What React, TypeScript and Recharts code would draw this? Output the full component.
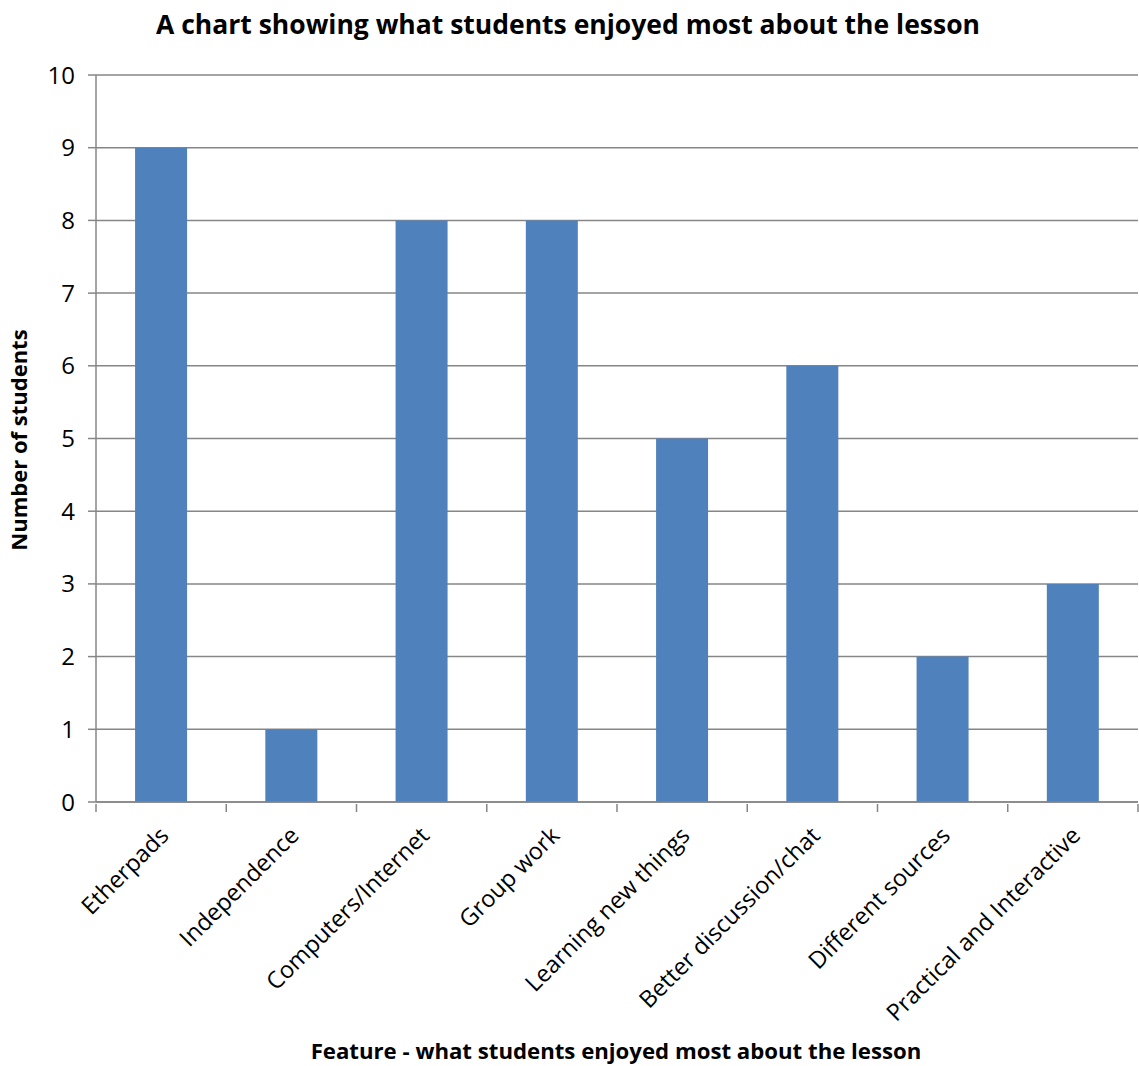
import { Bar, BarChart, CartesianGrid, XAxis, YAxis } from "recharts";

const features = [
  "Etherpads",
  "Independence",
  "Computers/Internet",
  "Group work",
  "Learning new things",
  "Better discussion/chat",
  "Different sources",
  "Practical and Interactive",
];
const students = [9, 1, 8, 8, 5, 6, 2, 3];
const yTicks = [0, 1, 2, 3, 4, 5, 6, 7, 8, 9, 10];

const FONT = "'Open Sans', Calibri, sans-serif";
const AXIS = "#868686";
const BAR = "#4F81BD";

const W = 1139;
const H = 1066;
const M = { top: 75, right: 1, left: 0, bottom: 64 };
const Y_WIDTH = 96;
const band = (W - M.left - M.right - Y_WIDTH) / features.length;

const data = features.map((f, i) => ({ feature: f, count: students[i] }));

// category label rotated 45°, with tick marks on the band boundaries
function FeatureTick(props: any) {
  const { x, y, payload, index } = props;
  const half = payload?.offset || band / 2;
  const left = x - half;
  const ax = x + 9;
  const ay = y + 25;
  return (
    <g>
      <line x1={left} y1={y - 8} x2={left} y2={y} stroke={AXIS} strokeWidth={1.5} />
      {index === features.length - 1 && (
        <line x1={x + half} y1={y - 8} x2={x + half} y2={y} stroke={AXIS} strokeWidth={1.5} />
      )}
      <text
        x={ax}
        y={ay}
        transform={`rotate(-45 ${ax} ${ay})`}
        textAnchor="end"
        fontFamily={FONT}
        fontSize={23.5}
        fill="#000"
      >
        {payload.value}
      </text>
    </g>
  );
}

export default function App() {
  return (
    <div style={{ position: "absolute", left: 0, top: 0, width: W, height: H, background: "#fff" }}>
      <BarChart width={W} height={H} data={data} margin={M} barCategoryGap="30%">
        <text x={568} y={34} textAnchor="middle" fontFamily={FONT} fontWeight={700} fontSize={26.5} fill="#000">
          A chart showing what students enjoyed most about the lesson
        </text>
        <text
          x={27}
          y={440}
          transform="rotate(-90 27 440)"
          textAnchor="middle"
          fontFamily={FONT}
          fontWeight={700}
          fontSize={22}
          fill="#000"
        >
          Number of students
        </text>
        <text x={616} y={1059} textAnchor="middle" fontFamily={FONT} fontWeight={700} fontSize={22.2} fill="#000">
          Feature - what students enjoyed most about the lesson
        </text>
        <CartesianGrid vertical={false} stroke={AXIS} strokeWidth={1.5} />
        <XAxis
          dataKey="feature"
          interval={0}
          height={200}
          axisLine={{ stroke: AXIS, strokeWidth: 1.5 }}
          tickLine={false}
          tickSize={8}
          tick={<FeatureTick />}
        />
        <YAxis
          width={Y_WIDTH}
          domain={[0, 10]}
          ticks={yTicks}
          interval={0}
          axisLine={{ stroke: AXIS, strokeWidth: 1.5 }}
          tickLine={{ stroke: AXIS, strokeWidth: 1.5 }}
          tickSize={8}
          tickMargin={13}
          tick={{ fontFamily: FONT, fontSize: 24, fill: "#000" }}
        />
        <Bar dataKey="count" fill={BAR} isAnimationActive={false} />
      </BarChart>
    </div>
  );
}
